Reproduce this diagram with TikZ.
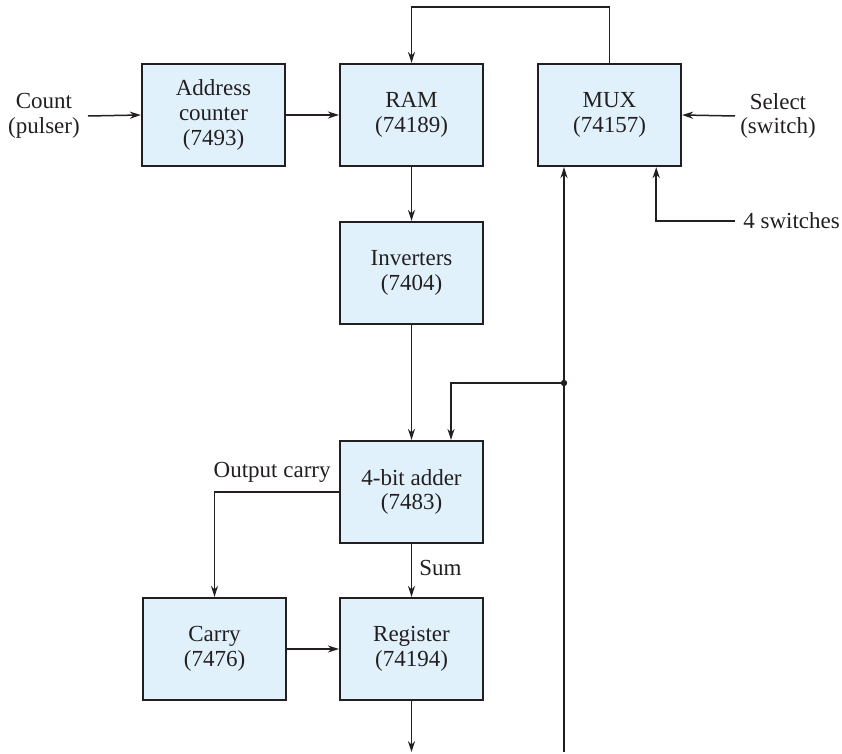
\documentclass[tikz,border=0pt]{standalone}
\usepackage{fontspec}
\setmainfont{Liberation Serif}
\usepackage{tikz}
\usetikzlibrary{arrows.meta,calc}
\definecolor{ink}{HTML}{231F20}
\definecolor{boxfill}{HTML}{E0F1FB}

\begin{document}
\begin{tikzpicture}[x=0.5pt,y=-0.5pt,
    font=\fontsize{11.5}{12.4}\selectfont, color=ink,
    blk/.style={draw=ink,fill=boxfill,line width=1.2pt,minimum width=71.5pt,minimum height=51pt,align=center,inner sep=0pt},
    wire/.style={draw=ink,line width=0.75pt,-{Stealth[length=5.5pt,width=3.6pt]}}]
  \useasboundingbox (0,0) rectangle (842,754);
  % blocks
  \node[blk] (addr) at (213.5,115) {Address\\counter\\(7493)};
  \node[blk] (ram)  at (411.5,115) {RAM\\(74189)};
  \node[blk] (mux)  at (609.5,115) {MUX\\(74157)};
  \node[blk] (inv)  at (411.5,273) {Inverters\\(7404)};
  \node[blk] (add)  at (411.5,492) {4-bit adder\\(7483)};
  \node[blk] (cry)  at (214.5,649) {Carry\\(7476)};
  \node[blk] (reg)  at (411.5,649) {Register\\(74194)};
  % outside signals
  \node[align=center] (cnt) at (44,116) {Count\\(pulser)};
  \node[align=center] (sel) at (778,116) {Select\\(switch)};
  \node[anchor=west,inner sep=0pt] (sw) at (743,221) {4 switches};
  \node[anchor=base east,inner sep=0pt] (oc) at (331,478) {Output carry};
  \node[anchor=west,inner sep=0pt] (sum) at (419,568) {Sum};
  \coordinate (top) at (609.5,7);
  \coordinate (jn) at (564,383);
  \coordinate (bus) at (564,752);
  \coordinate (out) at (411.5,752);
  % connectors
  \draw[wire] (88,116) -- (addr.west);
  \draw[wire] (addr.east) -- (ram.west);
  \draw[wire] (mux.north) -- (top) -| (ram.north);
  \draw[wire] (735,116) -- (mux.east);
  \draw[wire] ([xshift=-4pt]sw.west) -| ($(mux.south east)+(-26,0)$);
  \draw[wire] (ram.south) -- (inv.north);
  \draw[wire] (inv.south) -- (add.north);
  \draw[wire] (bus) -- (bus |- mux.south);
  \draw[wire] (jn) -| ($(add.north)+(39.5,0)$);
  \fill[ink] (jn) circle (1.6pt);
  \draw[wire] (add.west) -| (cry.north);
  \draw[wire] (add.south) -- (reg.north);
  \draw[wire] (cry.east) -- (reg.west);
  \draw[wire] (reg.south) -- (out);
\end{tikzpicture}
\end{document}
